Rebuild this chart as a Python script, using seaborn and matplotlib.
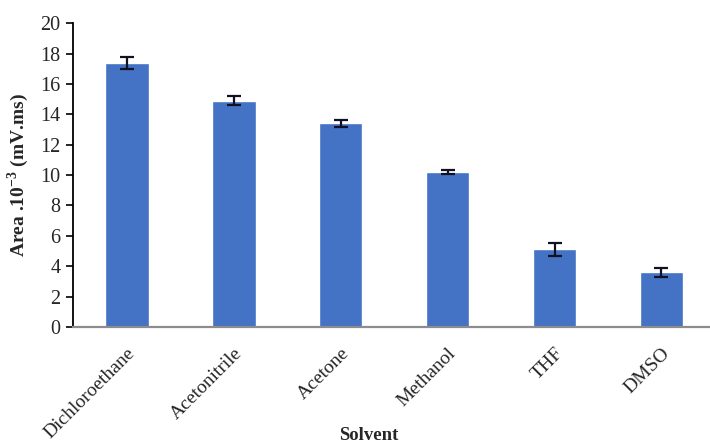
import matplotlib
matplotlib.use("Agg")
import matplotlib.pyplot as plt
import seaborn as sns
import pandas as pd

solvents = ["Dichloroethane", "Acetonitrile", "Acetone", "Methanol", "THF", "DMSO"]
area = [17.4, 14.9, 13.4, 10.2, 5.1, 3.6]
area_err = [0.4, 0.3, 0.25, 0.15, 0.4, 0.3]
y_ticks = [0, 2, 4, 6, 8, 10, 12, 14, 16, 18, 20]

sns.set_theme(style="white")
plt.rcParams["font.family"] = ["Liberation Serif", "DejaVu Serif"]
plt.rcParams["mathtext.fontset"] = "custom"
plt.rcParams["mathtext.rm"] = "Liberation Serif"
plt.rcParams["mathtext.bf"] = "Liberation Serif:bold"

FS = 14.5

df = pd.DataFrame({"Solvent": solvents, "Area": area, "err": area_err})

fig = plt.figure(figsize=(7.1, 4.46), dpi=100)
ax = fig.add_axes([0.103, 0.267, 0.904, 0.681])

sns.barplot(data=df, x="Solvent", y="Area", color="#4472C4", width=0.41,
            saturation=1, errorbar=None, ax=ax)
ax.errorbar(range(len(solvents)), df["Area"], yerr=df["err"], fmt="none",
            ecolor="#111122", elinewidth=1.6, capsize=5, capthick=1.6)

ax.set_xlim(-0.5, 5.5)
ax.set_ylim(0, 20)
ax.set_yticks(y_ticks)
ax.set_yticklabels([str(t) for t in y_ticks], fontsize=FS)
ax.tick_params(axis="y", direction="out", length=5, width=1.2, color="black",
               left=True, pad=4)
ax.tick_params(axis="x", bottom=False, pad=7)
plt.setp(ax.get_xticklabels(), rotation=45, ha="right", rotation_mode="anchor",
         fontsize=14)

for side in ["top", "right"]:
    ax.spines[side].set_visible(False)
ax.spines["left"].set_color("black")
ax.spines["left"].set_linewidth(1.3)
ax.spines["bottom"].set_color("#8c8c8c")
ax.spines["bottom"].set_linewidth(1.6)

ax.set_xlabel("Solvent", fontsize=13.5, fontweight="bold")
ax.xaxis.set_label_coords(0.46, -0.33)
ax.set_ylabel(r"Area .10$^{\mathbf{-3}}$ (mV.ms)", fontsize=FS - 0.5,
              fontweight="bold")
ax.yaxis.set_label_coords(-0.066, 0.5)

fig.savefig("out.png", dpi=100)
